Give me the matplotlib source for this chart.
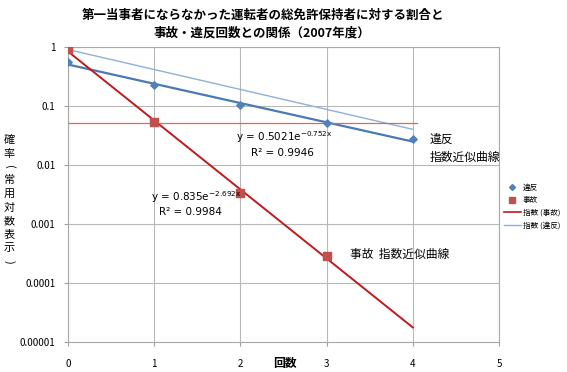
import numpy as np
import matplotlib
matplotlib.use('Agg')
from matplotlib import pyplot as plt
from matplotlib.lines import Line2D

plt.rcParams['font.family'] = ['Noto Sans CJK JP', 'DejaVu Sans']

# data
counts = [0, 1, 2, 3, 4]
ihan = [0.55, 0.23, 0.105, 0.052, 0.027]          # 違反
jiko_x = [0, 1, 2, 3]
jiko = [0.93, 0.053, 0.0034, 0.00029]             # 事故

# trendline coefficients shown on the chart
ihan_a, ihan_b = 0.5021, -0.752
jiko_a, jiko_b = 0.835, -2.692
light_blue_ends = [0.9, 0.04]
red_flat = 0.052

fig = plt.figure(figsize=(5.67, 3.72), dpi=100)
ax = fig.add_axes([0.12, 0.081, 0.76, 0.793])

xs = np.linspace(0, 4, 50)
ax.plot(xs, ihan_a * np.exp(ihan_b * xs), color='#4a7ab5', lw=1.6, zorder=3)
ax.plot([0, 4], light_blue_ends, color='#8fb0d8', lw=1.0, zorder=3)
ax.plot(xs, jiko_a * np.exp(jiko_b * xs), color='#c0191e', lw=1.4, zorder=3)
ax.plot([0, 4.05], [red_flat, red_flat], color='#e06666', lw=0.9, zorder=3)

ax.scatter(counts, ihan, marker='D', s=14, color='#4f81bd', zorder=4)
ax.scatter(jiko_x, jiko, marker='s', s=30, color='#c0504d', zorder=4)

ax.set_yscale('log')
ax.set_xlim(0, 5)
ax.set_ylim(1e-5, 1)
ax.set_yticks([1, 0.1, 0.01, 0.001, 0.0001, 0.00001])
ax.set_yticklabels(['1', '0.1', '0.01', '0.001', '0.0001', '0.00001'])
ax.yaxis.set_minor_locator(matplotlib.ticker.NullLocator())
ax.set_xticks([0, 1, 2, 3, 4, 5])
ax.tick_params(labelsize=7, length=3, color='#a0a0a0', pad=6)
ax.tick_params(axis='x', pad=9)
ax.grid(True, color='#b8b8b8', lw=0.8)
for s in ax.spines.values():
    s.set_color('#a8a8a8')


# place text by pixel coords from the top-left
def px(x, y):
    return x / 567, 1 - y / 372


fig.text(*px(263, 15), '第一当事者にならなかった運転者の総免許保持者に対する割合と',
         ha='center', va='center', fontsize=9, fontweight='bold')
fig.text(*px(262, 33), '事故・違反回数との関係（2007年度）',
         ha='center', va='center', fontsize=9, fontweight='bold')

eqs = [(r'y = 0.5021e$^{\mathrm{-0.752x}}$', (284, 137)), ('R² = 0.9946', (282, 153)),
       (r'y = 0.835e$^{\mathrm{-2.692x}}$', (196, 197)), ('R² = 0.9984', (190, 212))]
for t, (x, y) in eqs:
    fig.text(*px(x, y), t, ha='center', va='center', fontsize=7.5, family='DejaVu Sans')

fig.text(*px(430, 139), '違反', ha='left', va='center', fontsize=8.5)
fig.text(*px(430, 157), '指数近似曲線', ha='left', va='center', fontsize=8.5)
fig.text(*px(350, 254), '事故  指数近似曲線', ha='left', va='center', fontsize=8.5)

# vertical y label, one character at a time
ylab = '確率(常用対数表示)'
for i, ch in enumerate(ylab):
    rot = -90 if ch in '()' else 0
    fig.text(*px(9, 140 + i * 13.5), ch, ha='center', va='center', fontsize=8, rotation=rot)
fig.text(*px(285, 364), '回数', ha='center', va='center', fontsize=8.5, fontweight='bold')

handles = [Line2D([], [], ls='', marker='D', ms=3, color='#4f81bd'),
           Line2D([], [], ls='', marker='s', ms=4, color='#c0504d'),
           Line2D([], [], color='#c0191e', lw=1.2),
           Line2D([], [], color='#8fb0d8', lw=1.0)]
labels = ['違反', '事故', '指数 (事故)', '指数 (違反)']
fig.legend(handles, labels, loc='upper left', bbox_to_anchor=px(500, 180),
           frameon=False, fontsize=5.5, handlelength=2.2, labelspacing=0.6,
           handletextpad=0.3, borderpad=0)

plt.savefig('out.png', dpi=100)
